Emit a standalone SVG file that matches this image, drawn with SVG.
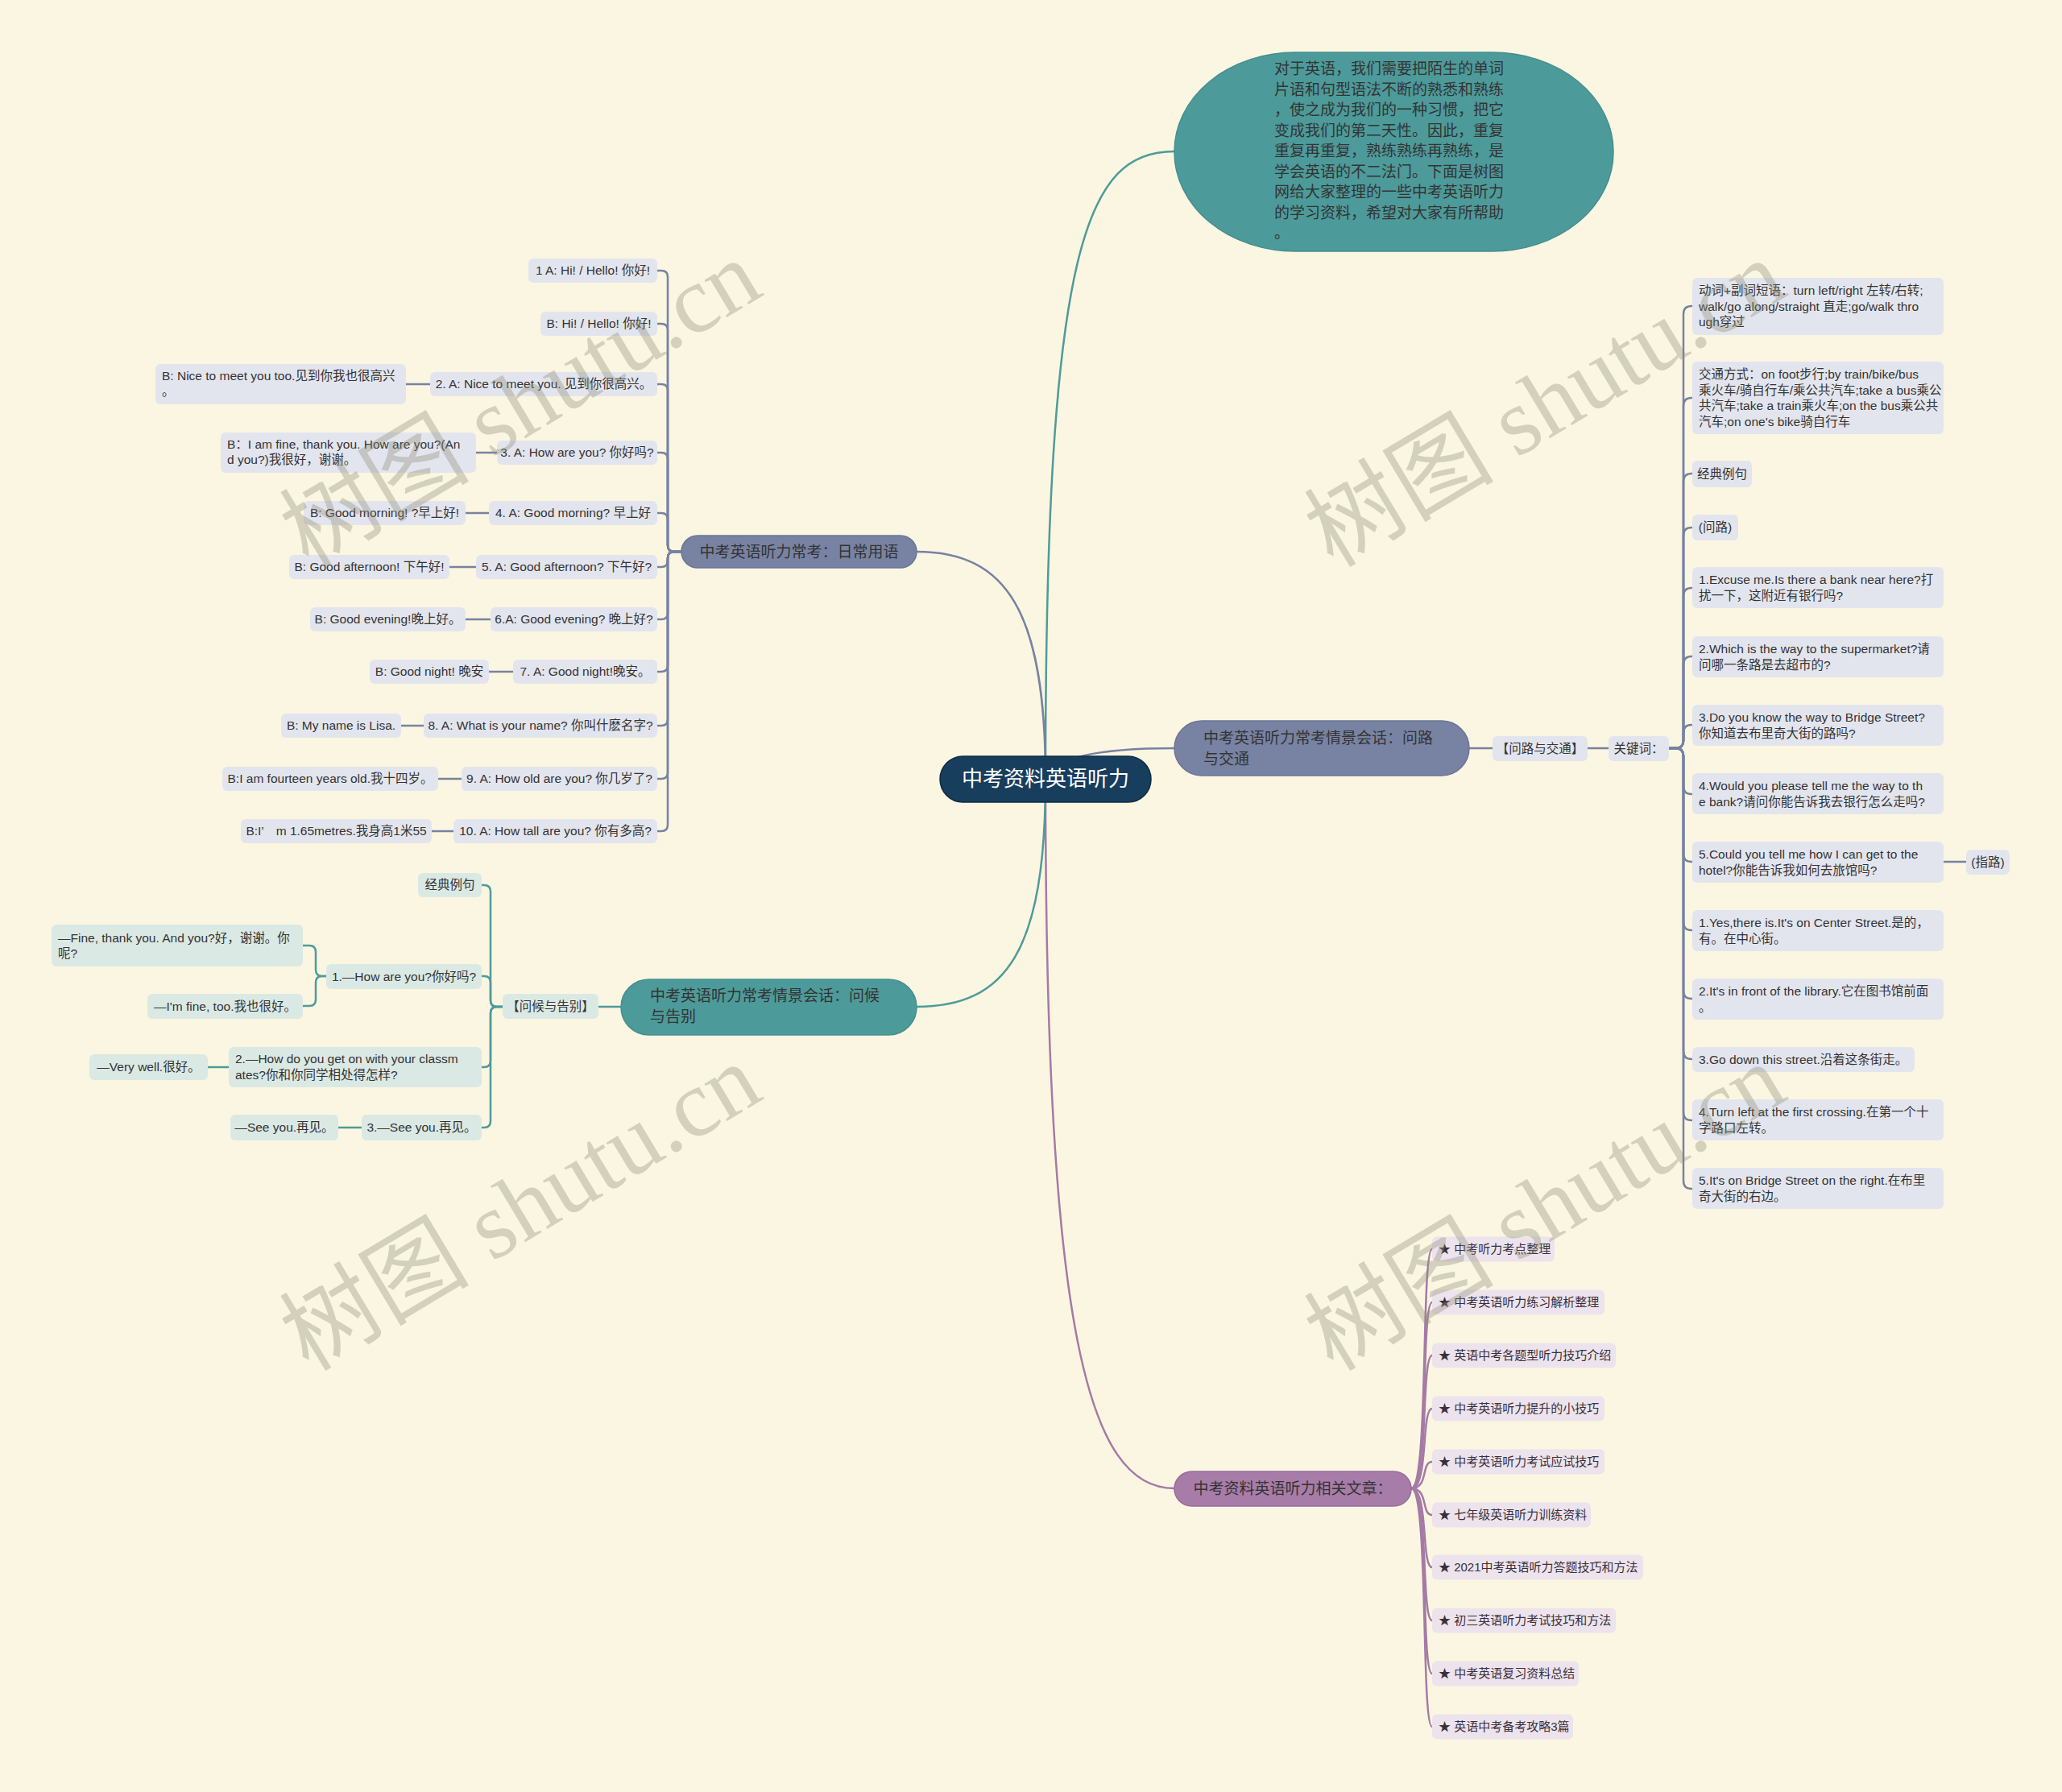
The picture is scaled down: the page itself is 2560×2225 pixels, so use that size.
<svg xmlns="http://www.w3.org/2000/svg" width="2560" height="2225" viewBox="0 0 2560 2225">
<style>
.t{font-family:"Liberation Sans","Noto Sans CJK SC",sans-serif;fill:#333;font-size:15.5px}
.tl{font-family:"Liberation Sans","Noto Sans CJK SC",sans-serif;fill:#333;font-size:15.5px}
.ta{font-family:"Liberation Sans","Noto Sans CJK SC",sans-serif;fill:#3a2f3a;font-size:15px}
.tp{font-family:"Liberation Sans","Noto Sans CJK SC",sans-serif;fill:#333;font-size:19px}
.m{text-anchor:middle}
.cs{fill:none;stroke:#7782a2;stroke-width:2.5}
.ct{fill:none;stroke:#4f9b9a;stroke-width:2.5}
.cp{fill:none;stroke:#a57aa6;stroke-width:2.5}
.bs{fill:#e3e5ee}
.bt{fill:#dbe9e5}
.bp{fill:#ece3ed}
.wm{font-family:"Liberation Serif","Noto Sans CJK SC",serif;font-size:118px;fill:#8e8c78;fill-opacity:0.36}
</style>
<rect width="2560" height="2225" fill="#fbf6e1"/>

<g id="connectors">
  <path class="ct" d="M1298,967 C1298,300 1350,188 1458,188"/>
  <path class="cs" d="M1298,967 Q1310,929 1458,929"/>
  <path class="cp" d="M1298,967 C1298,1650 1350,1848 1458,1848"/>
  <path class="cs" d="M1298,967 C1298,760 1250,685 1138,685"/>
  <path class="ct" d="M1298,967 C1298,1180 1250,1250 1138,1250"/>

  <path class="cs" d="M846,685 H837 Q829,685 829,677 V344 Q829,336 821,336 H816"/>
  <path class="cs" d="M846,685 H837 Q829,685 829,677 V410 Q829,402 821,402 H816"/>
  <path class="cs" d="M846,685 H837 Q829,685 829,677 V485 Q829,477 821,477 H816"/>
  <path class="cs" d="M846,685 H837 Q829,685 829,677 V570 Q829,562 821,562 H816"/>
  <path class="cs" d="M846,685 H837 Q829,685 829,677 V645 Q829,637 821,637 H816"/>
  <path class="cs" d="M846,685 H837 Q829,685 829,693 V696 Q829,704 821,704 H816"/>
  <path class="cs" d="M846,685 H837 Q829,685 829,693 V761 Q829,769 821,769 H816"/>
  <path class="cs" d="M846,685 H837 Q829,685 829,693 V826 Q829,834 821,834 H816"/>
  <path class="cs" d="M846,685 H837 Q829,685 829,693 V893 Q829,901 821,901 H816"/>
  <path class="cs" d="M846,685 H837 Q829,685 829,693 V959 Q829,967 821,967 H816"/>
  <path class="cs" d="M846,685 H837 Q829,685 829,693 V1024 Q829,1032 821,1032 H816"/>
  <path class="cs" d="M534,477 H504 M617,562 H591 M607,637 H578 M591,704 H558 M609,769 H578 M637,834 H607 M526,901 H498 M573,967 H544 M563,1032 H536"/>

  <path class="ct" d="M771,1250 H743"/>
  <path class="ct" d="M624,1250 H617 Q609,1250 609,1242 V1107 Q609,1099 601,1099 H598"/>
  <path class="ct" d="M624,1250 H617 Q609,1250 609,1242 V1220 Q609,1212 601,1212 H598"/>
  <path class="ct" d="M624,1250 H617 Q609,1250 609,1258 V1317 Q609,1325 601,1325 H598"/>
  <path class="ct" d="M624,1250 H617 Q609,1250 609,1258 V1392 Q609,1400 601,1400 H598"/>
  <path class="ct" d="M405,1212 H400 Q392,1212 392,1204 V1182 Q392,1174 384,1174 H376"/>
  <path class="ct" d="M405,1212 H400 Q392,1212 392,1220 V1241 Q392,1249 384,1249 H376"/>
  <path class="ct" d="M284,1325 H258 M449,1400 H420"/>

  <path class="cs" d="M1824,929 H1853 M1971,929 H1997 M2413,1070 H2441"/>
  <path class="cs" d="M2072,929 H2080 Q2090,929 2090,919 V390 Q2090,380 2100,380 H2101"/>
  <path class="cs" d="M2072,929 H2080 Q2090,929 2090,919 V504 Q2090,494 2100,494 H2101"/>
  <path class="cs" d="M2072,929 H2080 Q2090,929 2090,919 V598 Q2090,588 2100,588 H2101"/>
  <path class="cs" d="M2072,929 H2080 Q2090,929 2090,919 V665 Q2090,655 2100,655 H2101"/>
  <path class="cs" d="M2072,929 H2080 Q2090,929 2090,919 V740 Q2090,730 2100,730 H2101"/>
  <path class="cs" d="M2072,929 H2080 Q2090,929 2090,919 V825 Q2090,815 2100,815 H2101"/>
  <path class="cs" d="M2072,929 H2080 Q2090,929 2090,919 V910 Q2090,900 2100,900 H2101"/>
  <path class="cs" d="M2072,929 H2080 Q2090,929 2090,939 V976 Q2090,986 2100,986 H2101"/>
  <path class="cs" d="M2072,929 H2080 Q2090,929 2090,939 V1060 Q2090,1070 2100,1070 H2101"/>
  <path class="cs" d="M2072,929 H2080 Q2090,929 2090,939 V1145 Q2090,1155 2100,1155 H2101"/>
  <path class="cs" d="M2072,929 H2080 Q2090,929 2090,939 V1230 Q2090,1240 2100,1240 H2101"/>
  <path class="cs" d="M2072,929 H2080 Q2090,929 2090,939 V1305 Q2090,1315 2100,1315 H2101"/>
  <path class="cs" d="M2072,929 H2080 Q2090,929 2090,939 V1381 Q2090,1391 2100,1391 H2101"/>
  <path class="cs" d="M2072,929 H2080 Q2090,929 2090,939 V1466 Q2090,1476 2100,1476 H2101"/>

  <path class="cp" d="M1752,1848 C1774,1848 1764,1551 1778,1551"/>
  <path class="cp" d="M1752,1848 C1774,1848 1764,1617 1778,1617"/>
  <path class="cp" d="M1752,1848 C1774,1848 1764,1683 1778,1683"/>
  <path class="cp" d="M1752,1848 C1774,1848 1764,1749 1778,1749"/>
  <path class="cp" d="M1752,1848 C1774,1848 1764,1815 1778,1815"/>
  <path class="cp" d="M1752,1848 C1774,1848 1764,1881 1778,1881"/>
  <path class="cp" d="M1752,1848 C1774,1848 1764,1946 1778,1946"/>
  <path class="cp" d="M1752,1848 C1774,1848 1764,2012 1778,2012"/>
  <path class="cp" d="M1752,1848 C1774,1848 1764,2078 1778,2078"/>
  <path class="cp" d="M1752,1848 C1774,1848 1764,2144 1778,2144"/>
</g>

<g id="root">
  <rect x="1167" y="939" width="262" height="57" rx="28.5" fill="#173e5d" stroke="#0f2c44" stroke-width="1.5"/>
  <text x="1298" y="976" font-family="Liberation Sans,Noto Sans CJK SC,sans-serif" font-size="26" fill="#fff" text-anchor="middle">中考资料英语听力</text>
</g>

<g id="intro">
  <rect x="1458" y="65" width="545" height="247" rx="150" ry="123" fill="#4d9a9a" stroke="#458e8e" stroke-width="1.5"/>
  <text class="tp" x="1582" y="92">对于英语，我们需要把陌生的单词</text>
  <text class="tp" x="1582" y="118">片语和句型语法不断的熟悉和熟练</text>
  <text class="tp" x="1582" y="143">，使之成为我们的一种习惯，把它</text>
  <text class="tp" x="1582" y="169">变成我们的第二天性。因此，重复</text>
  <text class="tp" x="1582" y="194">重复再重复，熟练熟练再熟练，是</text>
  <text class="tp" x="1582" y="220">学会英语的不二法门。下面是树图</text>
  <text class="tp" x="1582" y="245">网给大家整理的一些中考英语听力</text>
  <text class="tp" x="1582" y="271">的学习资料，希望对大家有所帮助</text>
  <text class="tp" x="1582" y="296">。</text>
</g>

<g id="daily">
  <rect x="846" y="665" width="292" height="40" rx="20" fill="#7883a3" stroke="#6a7595" stroke-width="1.5"/>
  <text class="tp m" x="992" y="692">中考英语听力常考：日常用语</text>
</g>
<g id="daily-items">
  <g id="d1"><rect class="bs" x="656" y="321" width="160" height="30" rx="6"/><text class="tl m" x="736" y="341">1 A: Hi! / Hello! 你好!</text></g>
  <g id="d2"><rect class="bs" x="671" y="387" width="145" height="30" rx="6"/><text class="tl m" x="743.5" y="407">B: Hi! / Hello! 你好!</text></g>
  <g id="d3"><rect class="bs" x="534" y="462" width="282" height="30" rx="6"/><text class="tl m" x="675" y="482">2. A: Nice to meet you. 见到你很高兴。</text></g>
  <g id="d3b"><rect class="bs" x="193" y="452" width="311" height="50" rx="6"/><text class="tl" x="201" y="472">B: Nice to meet you too.见到你我也很高兴</text><text class="tl" x="201" y="491">。</text></g>
  <g id="d4"><rect class="bs" x="617" y="547" width="199" height="30" rx="6"/><text class="tl m" x="716.5" y="567">3. A: How are you? 你好吗?</text></g>
  <g id="d4b"><rect class="bs" x="274" y="537" width="317" height="50" rx="6"/><text class="tl" x="282" y="557">B：I am fine, thank you. How are you?(An</text><text class="tl" x="282" y="576">d you?)我很好，谢谢。</text></g>
  <g id="d5"><rect class="bs" x="607" y="622" width="209" height="30" rx="6"/><text class="tl m" x="711.5" y="642">4. A: Good morning? 早上好</text></g>
  <g id="d5b"><rect class="bs" x="377" y="622" width="201" height="30" rx="6"/><text class="tl m" x="477.5" y="642">B: Good morning! ?早上好!</text></g>
  <g id="d6"><rect class="bs" x="591" y="689" width="225" height="30" rx="6"/><text class="tl m" x="703.5" y="709">5. A: Good afternoon? 下午好?</text></g>
  <g id="d6b"><rect class="bs" x="359" y="689" width="199" height="30" rx="6"/><text class="tl m" x="458.5" y="709">B: Good afternoon! 下午好!</text></g>
  <g id="d7"><rect class="bs" x="609" y="754" width="207" height="30" rx="6"/><text class="tl m" x="712.5" y="774">6.A: Good evening? 晚上好?</text></g>
  <g id="d7b"><rect class="bs" x="385" y="754" width="193" height="30" rx="6"/><text class="tl m" x="481.5" y="774">B: Good evening!晚上好。</text></g>
  <g id="d8"><rect class="bs" x="637" y="819" width="179" height="30" rx="6"/><text class="tl m" x="726.5" y="839">7. A: Good night!晚安。</text></g>
  <g id="d8b"><rect class="bs" x="459" y="819" width="148" height="30" rx="6"/><text class="tl m" x="533" y="839">B: Good night! 晚安</text></g>
  <g id="d9"><rect class="bs" x="526" y="886" width="290" height="30" rx="6"/><text class="tl m" x="671" y="906">8. A: What is your name? 你叫什麽名字?</text></g>
  <g id="d9b"><rect class="bs" x="349" y="886" width="149" height="30" rx="6"/><text class="tl m" x="423.5" y="906">B: My name is Lisa.</text></g>
  <g id="d10"><rect class="bs" x="573" y="952" width="243" height="30" rx="6"/><text class="tl m" x="694.5" y="972">9. A: How old are you? 你几岁了?</text></g>
  <g id="d10b"><rect class="bs" x="276" y="952" width="268" height="30" rx="6"/><text class="tl m" x="410" y="972">B:I am fourteen years old.我十四岁。</text></g>
  <g id="d11"><rect class="bs" x="563" y="1017" width="253" height="30" rx="6"/><text class="tl m" x="689.5" y="1037">10. A: How tall are you? 你有多高?</text></g>
  <g id="d11b"><rect class="bs" x="299" y="1017" width="237" height="30" rx="6"/><text class="tl m" x="417.5" y="1037">B:I’　m 1.65metres.我身高1米55</text></g>
</g>

<g id="greet">
  <rect x="771" y="1216" width="367" height="69" rx="34.5" fill="#4d9a9a" stroke="#458e8e" stroke-width="1.5"/>
  <text class="tp" x="807" y="1243">中考英语听力常考情景会话：问候</text>
  <text class="tp" x="807" y="1269">与告别</text>
</g>
<g id="greet-items">
  <g id="g0"><rect class="bt" x="624" y="1234" width="119" height="31" rx="6"/><text class="tl m" x="683.5" y="1255">【问候与告别】</text></g>
  <g id="g1"><rect class="bt" x="519" y="1084" width="79" height="30" rx="6"/><text class="tl m" x="558.5" y="1104">经典例句</text></g>
  <g id="g2"><rect class="bt" x="405" y="1197" width="193" height="31" rx="6"/><text class="tl m" x="501.5" y="1217.5">1.—How are you?你好吗?</text></g>
  <g id="g2a"><rect class="bt" x="64" y="1148" width="312" height="52" rx="6"/><text class="tl" x="72" y="1170">—Fine, thank you. And you?好，谢谢。你</text><text class="tl" x="72" y="1189">呢?</text></g>
  <g id="g2b"><rect class="bt" x="183" y="1234" width="193" height="31" rx="6"/><text class="tl m" x="279.5" y="1255">—I'm fine, too.我也很好。</text></g>
  <g id="g3"><rect class="bt" x="284" y="1300" width="314" height="50" rx="6"/><text class="tl" x="292" y="1320">2.—How do you get on with your classm</text><text class="tl" x="292" y="1340">ates?你和你同学相处得怎样?</text></g>
  <g id="g3a"><rect class="bt" x="111" y="1309" width="147" height="32" rx="6"/><text class="tl m" x="184.5" y="1330">—Very well.很好。</text></g>
  <g id="g4"><rect class="bt" x="449" y="1384" width="149" height="32" rx="6"/><text class="tl m" x="523.5" y="1405">3.—See you.再见。</text></g>
  <g id="g4a"><rect class="bt" x="286" y="1384" width="134" height="32" rx="6"/><text class="tl m" x="353" y="1405">—See you.再见。</text></g>
</g>

<g id="dir">
  <rect x="1458" y="895" width="366" height="68" rx="34" fill="#7883a3" stroke="#6a7595" stroke-width="1.5"/>
  <text class="tp" x="1494" y="923">中考英语听力常考情景会话：问路</text>
  <text class="tp" x="1494" y="949">与交通</text>
</g>
<g id="dir-items">
  <g id="r0"><rect class="bs" x="1853" y="914" width="118" height="31" rx="6"/><text class="t m" x="1912" y="935">【问路与交通】</text></g>
  <g id="r0b"><rect class="bs" x="1997" y="914" width="75" height="31" rx="6"/><text class="t m" x="2034.5" y="935">关键词：</text></g>
  <g id="r1"><rect class="bs" x="2101" y="345" width="312" height="71" rx="6"/><text class="t" x="2109" y="366">动词+副词短语：turn left/right 左转/右转;</text><text class="t" x="2109" y="385.5">walk/go along/straight 直走;go/walk thro</text><text class="t" x="2109" y="405">ugh穿过</text></g>
  <g id="r2"><rect class="bs" x="2101" y="449" width="312" height="90" rx="6"/><text class="t" x="2109" y="470">交通方式：on foot步行;by train/bike/bus</text><text class="t" x="2109" y="489.5">乘火车/骑自行车/乘公共汽车;take a bus乘公</text><text class="t" x="2109" y="509">共汽车;take a train乘火车;on the bus乘公共</text><text class="t" x="2109" y="528.5">汽车;on one's bike骑自行车</text></g>
  <g id="r3"><rect class="bs" x="2101" y="572" width="74" height="33" rx="6"/><text class="t m" x="2138" y="594">经典例句</text></g>
  <g id="r4"><rect class="bs" x="2101" y="639" width="57" height="32" rx="6"/><text class="t m" x="2129.5" y="660">(问路)</text></g>
  <g id="r5"><rect class="bs" x="2101" y="704" width="312" height="51" rx="6"/><text class="t" x="2109" y="725">1.Excuse me.Is there a bank near here?打</text><text class="t" x="2109" y="744.5">扰一下，这附近有银行吗?</text></g>
  <g id="r6"><rect class="bs" x="2101" y="790" width="312" height="51" rx="6"/><text class="t" x="2109" y="811">2.Which is the way to the supermarket?请</text><text class="t" x="2109" y="830.5">问哪一条路是去超市的?</text></g>
  <g id="r7"><rect class="bs" x="2101" y="875" width="312" height="51" rx="6"/><text class="t" x="2109" y="896">3.Do you know the way to Bridge Street?</text><text class="t" x="2109" y="915.5">你知道去布里奇大街的路吗?</text></g>
  <g id="r8"><rect class="bs" x="2101" y="960" width="312" height="51" rx="6"/><text class="t" x="2109" y="981">4.Would you please tell me the way to th</text><text class="t" x="2109" y="1000.5">e bank?请问你能告诉我去银行怎么走吗?</text></g>
  <g id="r9"><rect class="bs" x="2101" y="1045" width="312" height="51" rx="6"/><text class="t" x="2109" y="1066">5.Could you tell me how I can get to the</text><text class="t" x="2109" y="1085.5">hotel?你能告诉我如何去旅馆吗?</text></g>
  <g id="r9b"><rect class="bs" x="2441" y="1055" width="54" height="31" rx="6"/><text class="t m" x="2468" y="1075.5">(指路)</text></g>
  <g id="r10"><rect class="bs" x="2101" y="1130" width="312" height="51" rx="6"/><text class="t" x="2109" y="1151">1.Yes,there is.It's on Center Street.是的，</text><text class="t" x="2109" y="1170.5">有。在中心街。</text></g>
  <g id="r11"><rect class="bs" x="2101" y="1215" width="312" height="51" rx="6"/><text class="t" x="2109" y="1236">2.It's in front of the library.它在图书馆前面</text><text class="t" x="2109" y="1255.5">。</text></g>
  <g id="r12"><rect class="bs" x="2101" y="1300" width="276" height="31" rx="6"/><text class="t" x="2109" y="1320.5">3.Go down this street.沿着这条街走。</text></g>
  <g id="r13"><rect class="bs" x="2101" y="1365" width="312" height="51" rx="6"/><text class="t" x="2109" y="1386">4.Turn left at the first crossing.在第一个十</text><text class="t" x="2109" y="1405.5">字路口左转。</text></g>
  <g id="r14"><rect class="bs" x="2101" y="1450" width="312" height="51" rx="6"/><text class="t" x="2109" y="1471">5.It's on Bridge Street on the right.在布里</text><text class="t" x="2109" y="1490.5">奇大街的右边。</text></g>
</g>

<g id="articles">
  <rect x="1458" y="1827" width="294" height="43" rx="21.5" fill="#a87ca9" stroke="#976c98" stroke-width="1.5"/>
  <text class="tp m" x="1605" y="1855">中考资料英语听力相关文章：</text>
</g>
<g id="article-items">
  <g id="a1"><rect class="bp" x="1778" y="1535.5" width="152" height="31" rx="6"/><text class="ta" x="1786" y="1556">★ 中考听力考点整理</text></g>
  <g id="a2"><rect class="bp" x="1778" y="1601.5" width="214" height="31" rx="6"/><text class="ta" x="1786" y="1622">★ 中考英语听力练习解析整理</text></g>
  <g id="a3"><rect class="bp" x="1778" y="1667.5" width="228" height="31" rx="6"/><text class="ta" x="1786" y="1688">★ 英语中考各题型听力技巧介绍</text></g>
  <g id="a4"><rect class="bp" x="1778" y="1733.5" width="214" height="31" rx="6"/><text class="ta" x="1786" y="1754">★ 中考英语听力提升的小技巧</text></g>
  <g id="a5"><rect class="bp" x="1778" y="1799.5" width="214" height="31" rx="6"/><text class="ta" x="1786" y="1820">★ 中考英语听力考试应试技巧</text></g>
  <g id="a6"><rect class="bp" x="1778" y="1865.5" width="197" height="31" rx="6"/><text class="ta" x="1786" y="1886">★ 七年级英语听力训练资料</text></g>
  <g id="a7"><rect class="bp" x="1778" y="1930.5" width="262" height="31" rx="6"/><text class="ta" x="1786" y="1951">★ 2021中考英语听力答题技巧和方法</text></g>
  <g id="a8"><rect class="bp" x="1778" y="1996.5" width="228" height="31" rx="6"/><text class="ta" x="1786" y="2017">★ 初三英语听力考试技巧和方法</text></g>
  <g id="a9"><rect class="bp" x="1778" y="2062.5" width="182" height="31" rx="6"/><text class="ta" x="1786" y="2083">★ 中考英语复习资料总结</text></g>
  <g id="a10"><rect class="bp" x="1778" y="2128.5" width="175" height="31" rx="6"/><text class="ta" x="1786" y="2149">★ 英语中考备考攻略3篇</text></g>
</g>

<g id="watermarks">
  <text class="wm" transform="translate(383,706) rotate(-31)">树图 shutu.cn</text>
  <text class="wm" transform="translate(383,1704) rotate(-31)">树图 shutu.cn</text>
  <text class="wm" transform="translate(1655,706) rotate(-31)">树图 shutu.cn</text>
  <text class="wm" transform="translate(1655,1704) rotate(-31)">树图 shutu.cn</text>
</g>
</svg>
